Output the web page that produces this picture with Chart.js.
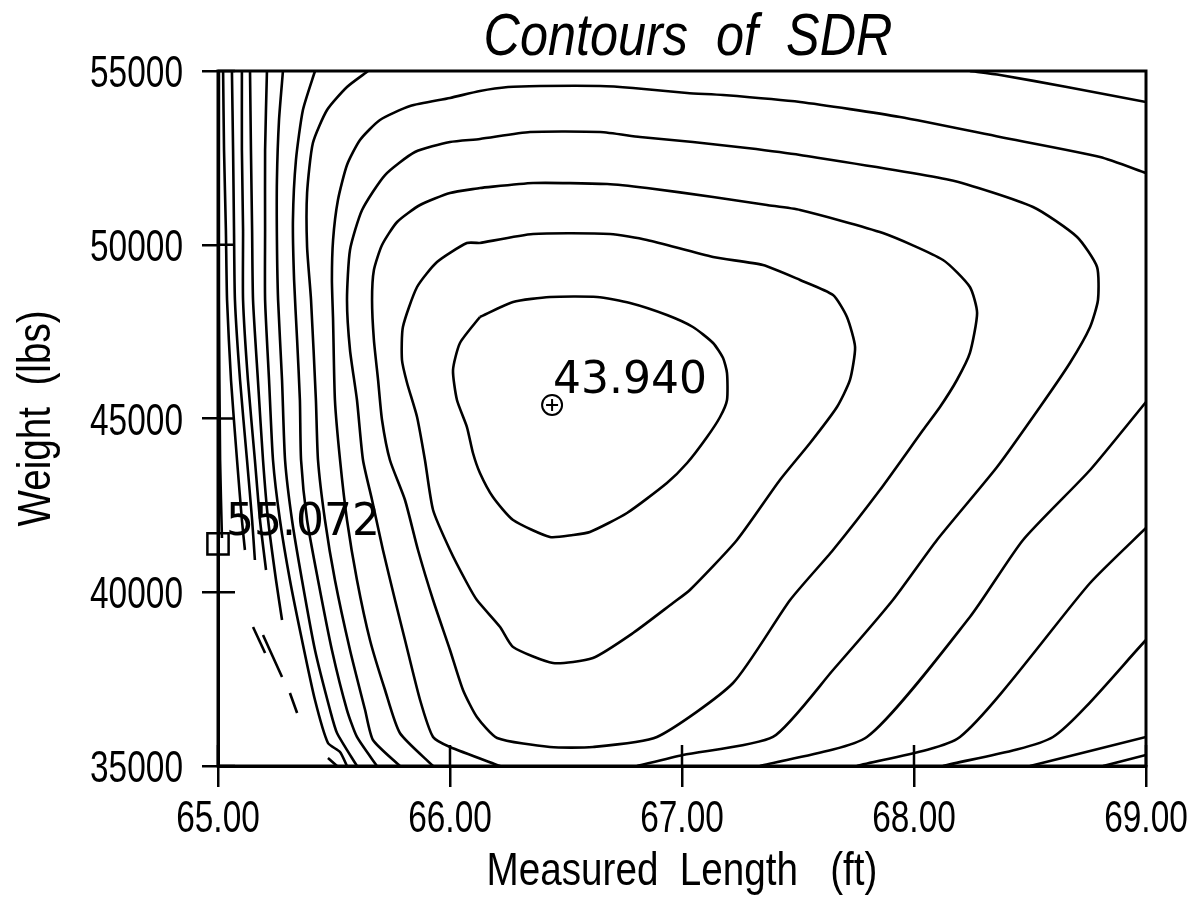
<!DOCTYPE html>
<html><head><meta charset="utf-8">
<script src="https://cdn.jsdelivr.net/npm/chart.js@4.4.0/dist/chart.umd.min.js"></script>
<style>html,body{margin:0;padding:0;background:#fff;}#wrap{width:1198px;height:897px;}</style>
</head><body><div id="wrap"><canvas id="c" width="1198" height="897"></canvas></div>
<script>
// Axis ticks and labels
const xTicks = [65, 66, 67, 68, 69];
const yTicks = [35000, 40000, 45000, 50000, 55000];
const chartTitle = 'Contours  of  SDR';
const xTitle = 'Measured  Length   (ft)';
const yTitle = 'Weight  (lbs)';

// Contour lines of SDR: [measured length (ft), weight (lbs)]
const contour1 = [[66.129,47921],[66.272,48353],[66.431,48496],[66.634,48496],[66.776,48324],[66.935,47978],[67.047,47633],[67.134,47173],[67.177,46741],[67.194,46309],[67.194,45532],[67.164,45043],[67.108,44468],[67.022,43719],[66.935,43144],[66.763,42281],[66.603,41734],[66.530,41648],[66.431,41590],[66.272,42079],[66.185,42741],[66.129,43432],[66.099,44007],[66.073,44755],[66.030,45532],[66.013,46396],[66.043,47173],[66.129,47921]];
const contour2 = [[66.129,50050],[66.358,50309],[66.690,50309],[66.849,50137],[67.134,49647],[67.349,49417],[67.509,48986],[67.651,48554],[67.711,47921],[67.746,47058],[67.724,46108],[67.668,45331],[67.552,44295],[67.422,43230],[67.237,41504],[67.034,40065],[66.961,39691],[66.789,38827],[66.616,38108],[66.444,37964],[66.272,38424],[66.216,39000],[66.116,39777],[66.073,40266],[66.000,41216],[65.927,42367],[65.892,43806],[65.858,45043],[65.815,46022],[65.793,46683],[65.797,47633],[65.858,48784],[65.944,49504],[66.073,50050],[66.129,50050]];
const contour3 = [[66.129,51633],[66.358,51777],[66.677,51748],[66.849,51633],[67.134,51374],[67.366,51144],[67.509,51000],[67.866,50338],[68.125,49561],[68.241,48784],[68.272,48036],[68.241,46885],[68.185,46108],[68.112,45331],[68.039,44669],[67.853,42942],[67.651,41216],[67.466,39777],[67.220,37388],[66.892,35835],[66.616,35547],[66.431,35547],[66.203,35806],[66.116,36410],[66.056,37187],[66.000,38338],[65.927,39777],[65.862,41216],[65.806,42655],[65.741,43806],[65.707,44957],[65.690,46108],[65.672,47259],[65.664,48410],[65.672,49273],[65.707,49993],[65.772,50655],[65.871,51144],[66.000,51489],[66.129,51633]];
const contour4 = [[66.806,35000],[67.004,35317],[67.392,35835],[67.651,37763],[67.909,39777],[68.099,41504],[68.358,43604],[68.543,45331],[68.672,46597],[68.759,47633],[68.793,48410],[68.789,49360],[68.703,50223],[68.513,51086],[68.155,51863],[67.509,52583],[67.280,52784],[67.047,52957],[66.819,53101],[66.647,53244],[66.345,53244],[66.129,53043],[66.000,52957],[65.849,52669],[65.720,52007],[65.621,51000],[65.569,49849],[65.556,48410],[65.569,46971],[65.599,45532],[65.625,43806],[65.664,42655],[65.711,41216],[65.763,39777],[65.806,38626],[65.871,36899],[65.927,35835],[66.000,35547],[66.216,35000]];
const contour5a = [[69.000,52065],[68.802,52525],[68.371,53101],[67.940,53676],[67.509,54108],[67.177,54309],[67.022,54367],[66.789,54511],[66.647,54568],[66.388,54568],[66.250,54540],[66.129,54425],[66.000,54224],[65.828,53993],[65.698,53590],[65.612,53014],[65.556,52295],[65.517,51288],[65.496,50137],[65.491,48986],[65.496,47835],[65.504,45532],[65.526,43806],[65.556,42079],[65.599,40353],[65.655,38626],[65.720,37187],[65.784,35950],[65.927,35000]];
const contour5b = [[69.000,45475],[68.759,43518],[68.470,41504],[68.241,39288],[67.797,35835],[67.336,35000]];
const contour6a = [[65.647,55000],[65.556,54540],[65.470,53878],[65.409,52928],[65.384,51489],[65.384,49935],[65.401,48410],[65.422,45532],[65.431,43806],[65.461,42079],[65.504,40353],[65.569,38338],[65.634,36611],[65.668,35748],[65.784,35000]];
const contour6b = [[68.241,55000],[68.371,54885],[68.659,54540],[69.000,54108]];
const contour6c = [[69.000,41849],[68.759,40266],[68.198,35835],[67.754,35000]];
const contour7a = [[65.418,55000],[65.366,53878],[65.336,52439],[65.323,50712],[65.328,48986],[65.341,47259],[65.353,45532],[65.358,43806],[65.384,42079],[65.431,40353],[65.491,38338],[65.556,36611],[65.599,35835],[65.685,35000]];
const contour7b = [[69.000,38626],[68.599,35835],[68.125,35000]];
const contour8a = [[65.280,55000],[65.263,53590],[65.254,51863],[65.254,50137],[65.259,48410],[65.276,46108],[65.289,43806],[65.319,42079],[65.362,40353],[65.418,38338],[65.483,36611],[65.513,35950],[65.599,35000]];
const contour8b = [[69.000,35835],[68.500,35000]];
const contour9a = [[65.211,55000],[65.203,52727],[65.203,50424],[65.203,48410],[65.220,46108],[65.237,43806],[65.267,42079],[65.310,40353],[65.362,38626],[65.418,36899],[65.474,35662],[65.526,35403],[65.556,35000]];
const contour9b = [[69.000,35317],[68.815,35000]];
const contour10 = [[65.138,55000],[65.142,52727],[65.147,50424],[65.151,48410],[65.172,46108],[65.194,43806],[65.216,42079],[65.250,40353],[65.276,39201]];
const contour10b = [[65.310,37101],[65.341,36525]];
const contour10c = [[65.474,35230],[65.513,35000]];
const contour11 = [[65.103,55000],[65.103,52727],[65.108,50424],[65.108,48410],[65.129,46108],[65.159,43806],[65.181,42079],[65.207,40640]];
const contour11b = [[65.194,38770],[65.276,37561]];
const contour12 = [[65.060,55000],[65.065,52727],[65.069,50424],[65.073,48410],[65.095,46108],[65.125,43806],[65.147,42079],[65.159,40928]];
const contour12b = [[65.151,39000],[65.203,38252]];
const contour13 = [[65.022,55000],[65.026,52727],[65.034,50424],[65.039,48410],[65.056,46108],[65.082,43806],[65.103,42079],[65.116,41216]];
const contour14 = [[65.004,55000],[65.004,48410],[65.009,43806],[65.017,41562]];

// Marked extremes
const minPoint = [66.44, 45390];
const minLabel = '43.940';
const maxPoint = [65.00, 41390];
const maxLabel = '55.072';

const SANS = "'Liberation Sans', Arial, sans-serif";

const lines = [contour1, contour2, contour3, contour4, contour5a, contour5b, contour6a, contour6b, contour6c,
  contour7a, contour7b, contour8a, contour8b, contour9a, contour9b, contour10, contour10b, contour10c,
  contour11, contour11b, contour12, contour12b, contour13, contour14];

const datasets = lines.map(arr => ({
  data: arr.map(([x, y]) => ({x, y})),
  showLine: true, pointRadius: 0, borderColor: '#000', borderWidth: 2.6,
  fill: false, tension: 0.2
}));
datasets.push({data: [{x: minPoint[0], y: minPoint[1]}], showLine: false, pointStyle: 'circle', pointRadius: 10,
  borderColor: '#000', pointBorderWidth: 2, backgroundColor: 'rgba(0,0,0,0)', clip: false});
datasets.push({data: [{x: minPoint[0], y: minPoint[1]}], showLine: false, pointStyle: 'cross', pointRadius: 6,
  borderColor: '#000', pointBorderWidth: 2, clip: false});
datasets.push({data: [{x: maxPoint[0], y: maxPoint[1]}], showLine: false, pointStyle: 'rect', pointRadius: 15,
  borderColor: '#000', pointBorderWidth: 2.5, backgroundColor: 'rgba(0,0,0,0)', clip: false});

function drawNarrow(ctx, text, x, y, sx, align) {
  const w = ctx.measureText(text).width * sx;
  const left = align === 'center' ? x - w / 2 : (align === 'right' ? x - w : x);
  ctx.save();
  ctx.translate(left, y);
  ctx.scale(sx, 1);
  ctx.textAlign = 'left';
  ctx.textBaseline = 'alphabetic';
  ctx.fillText(text, 0, 0);
  ctx.restore();
}

const framePlugin = {
  id: 'frame',
  afterDatasetsDraw(chart) {
    const {ctx, chartArea: a, scales: {x, y}} = chart;
    ctx.save();
    ctx.strokeStyle = '#000';
    ctx.lineWidth = 3;
    ctx.strokeRect(a.left, a.top, a.right - a.left, a.bottom - a.top);
    ctx.lineWidth = 2.5;
    ctx.beginPath();
    x.ticks.forEach(t => { const px = x.getPixelForValue(t.value); ctx.moveTo(px, a.bottom); ctx.lineTo(px, a.bottom - 21); });
    y.ticks.forEach(t => { const py = y.getPixelForValue(t.value); ctx.moveTo(a.left, py); ctx.lineTo(a.left + 17, py); });
    ctx.stroke();
    ctx.fillStyle = '#000';
    // tick labels
    ctx.font = '44px ' + SANS;
    x.ticks.forEach(t => drawNarrow(ctx, Number(t.value).toFixed(2), x.getPixelForValue(t.value), a.bottom + 66, 0.76, 'center'));
    y.ticks.forEach(t => drawNarrow(ctx, String(t.value), a.left - 35, y.getPixelForValue(t.value) + 16, 0.76, 'right'));
    // chart title
    ctx.font = 'italic 60px ' + SANS;
    drawNarrow(ctx, chartTitle, (a.left + a.right) / 2 + 6, 55, 0.84, 'center');
    // axis titles
    ctx.font = '46px ' + SANS;
    drawNarrow(ctx, xTitle, (a.left + a.right) / 2, 885, 0.84, 'center');
    ctx.save();
    ctx.translate(50, (a.top + a.bottom) / 2);
    ctx.rotate(-Math.PI / 2);
    drawNarrow(ctx, yTitle, 0, 0, 0.84, 'center');
    ctx.restore();
    // extreme labels
    ctx.font = "44px 'DejaVu Sans', sans-serif";
    ctx.textAlign = 'left';
    ctx.fillText(minLabel, x.getPixelForValue(minPoint[0]) + 1, y.getPixelForValue(minPoint[1]) - 12);
    ctx.fillText(maxLabel, x.getPixelForValue(maxPoint[0]) + 8, y.getPixelForValue(maxPoint[1]) - 9);
    ctx.restore();
  }
};

new Chart(document.getElementById('c'), {
  type: 'scatter',
  data: {datasets},
  options: {
    responsive: false, animation: false, events: [],
    layout: {padding: {top: 71, right: 52, bottom: 0, left: 0}},
    plugins: {legend: {display: false}, tooltip: {enabled: false}, title: {display: false}},
    scales: {
      x: {
        type: 'linear', position: 'bottom', min: 65, max: 69,
        afterBuildTicks: s => { s.ticks = xTicks.map(v => ({value: v})); },
        afterFit: s => { s.height = 131; },
        ticks: {display: false},
        grid: {display: true, drawOnChartArea: false, drawTicks: true, tickLength: 21, color: '#000', lineWidth: 2.5},
        border: {display: true, color: '#000', width: 3},
        title: {display: false}
      },
      y: {
        type: 'linear', position: 'left', min: 35000, max: 55000,
        afterBuildTicks: s => { s.ticks = yTicks.map(v => ({value: v})); },
        afterFit: s => { s.width = 218; },
        ticks: {display: false},
        grid: {display: true, drawOnChartArea: false, drawTicks: true, tickLength: 16, color: '#000', lineWidth: 2.5},
        border: {display: true, color: '#000', width: 3},
        title: {display: false}
      }
    }
  },
  plugins: [framePlugin]
});
</script>
</body></html>
